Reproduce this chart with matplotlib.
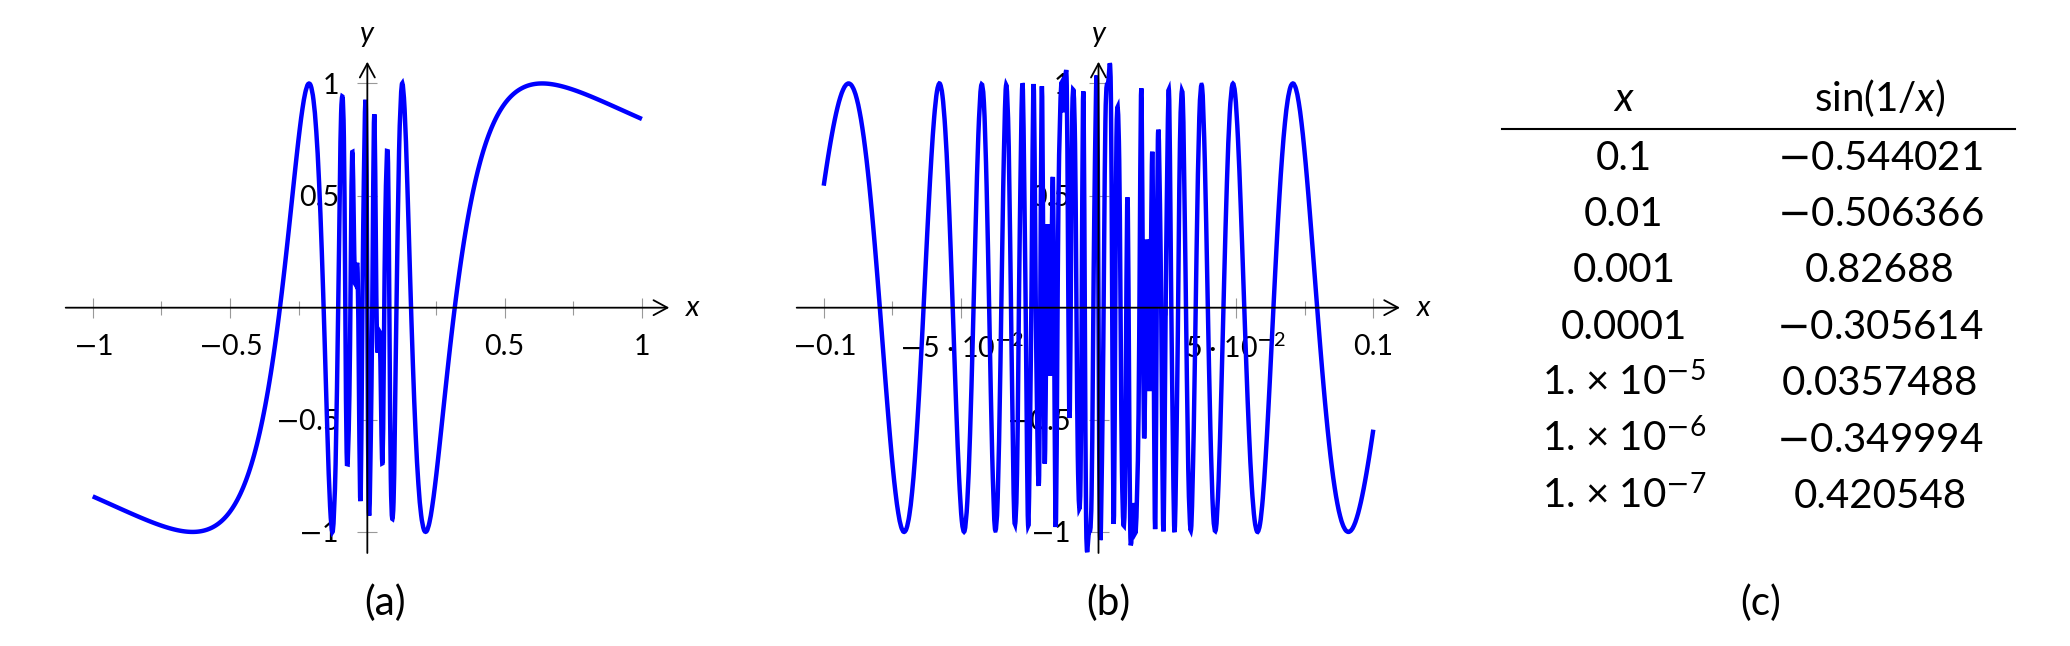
import matplotlib
matplotlib.use("Agg")
import matplotlib.pyplot as plt
import numpy as np
from matplotlib.lines import Line2D
from matplotlib.patches import PathPatch
from matplotlib.path import Path
from matplotlib.ticker import FixedLocator, FixedFormatter

plt.rcParams['font.family'] = ['Lato', 'DejaVu Sans']
plt.rcParams['mathtext.fontset'] = 'custom'
plt.rcParams['mathtext.rm'] = 'Lato'
plt.rcParams['mathtext.it'] = 'Lato:italic'
plt.rcParams['mathtext.bf'] = 'Lato:bold'
plt.rcParams['mathtext.sf'] = 'DejaVu Sans'

# long minus sign, taken from DejaVu
M = r'$\mathsf{-}$'

# sampled curve y = sin(1/x), drawn smooth through the samples
n_samples = 200
domain_a = (-1.0, 1.0)
domain_b = (-0.1, 0.1)

# ticks
y_ticks = [-1, -0.5, 0.5, 1]
y_tick_labels = [M + '1', M + '0.5', '0.5', '1']
a_x_ticks = [-1, -0.5, 0.5, 1]
a_x_tick_labels = [M + '1', M + '0.5', '0.5', '1']
a_x_minor = [-0.75, -0.25, 0.25, 0.75]
b_x_ticks = [-0.1, -0.05, 0.05, 0.1]
b_x_tick_labels = [M + '0.1', M + '5 · 10$^{\\mathsf{-}2}$', '5 · 10$^{\\mathsf{-}2}$', '0.1']
b_x_minor = [-0.075, -0.025, 0.025, 0.075]

# table (c)
table_x = [0.1, 0.01, 0.001, 0.0001, 1e-5, 1e-6, 1e-7]
table_y = [-0.544021, -0.506366, 0.82688, -0.305614, 0.0357488, -0.349994, 0.420548]

W, H = 2070, 646
fig = plt.figure(figsize=(W / 100, H / 100), dpi=100)


def px(x, y):
    return x / W, 1 - y / H


def smooth_path(xs, ys, k=0.153):
    # bezier through the points, like a tikz "smooth" plot
    p = np.column_stack([xs, ys])
    t = np.zeros_like(p)
    t[1:-1] = p[2:] - p[:-2]
    t[0] = p[1] - p[0]
    t[-1] = p[-1] - p[-2]
    verts = [p[0]]
    codes = [Path.MOVETO]
    for i in range(len(p) - 1):
        verts += [p[i] + k * t[i], p[i + 1] - k * t[i + 1], p[i + 1]]
        codes += [Path.CURVE4] * 3
    return Path(verts, codes)


def panel(rect, domain, xlim, ylim, xt, xtl, xminor):
    ax = fig.add_axes(rect)
    xs = np.linspace(domain[0], domain[1], n_samples)
    ax.add_patch(PathPatch(smooth_path(xs, np.sin(1 / xs)), fill=False, edgecolor='#0000ff',
                           lw=3.2, joinstyle='miter', zorder=2))
    ax.set_xlim(xlim)
    ax.set_ylim(ylim)
    for s in ['top', 'right', 'left', 'bottom']:
        ax.spines[s].set_visible(False)
    ax.spines['left'].set_position(('data', 0))
    ax.spines['bottom'].set_position(('data', 0))
    ax.xaxis.set_major_locator(FixedLocator(xt))
    ax.xaxis.set_major_formatter(FixedFormatter(xtl))
    ax.xaxis.set_minor_locator(FixedLocator(xminor))
    ax.yaxis.set_major_locator(FixedLocator(y_ticks))
    ax.yaxis.set_major_formatter(FixedFormatter(y_tick_labels))
    ax.yaxis.set_minor_locator(FixedLocator([]))
    ax.tick_params(which='both', direction='inout', color='0.6', width=0.8, labelsize=20.5)
    ax.tick_params(which='major', length=14)
    ax.tick_params(which='minor', length=10)
    ax.tick_params(axis='x', pad=12)
    ax.tick_params(axis='y', pad=13.5)
    arrow = dict(arrowstyle='->,head_length=0.5,head_width=0.27', lw=1.3, color='black',
                 shrinkA=0, shrinkB=0, mutation_scale=20)
    ax.annotate('', xy=(xlim[1], 0), xytext=(xlim[0], 0), arrowprops=arrow,
                annotation_clip=False, zorder=3)
    ax.annotate('', xy=(0, ylim[1]), xytext=(0, ylim[0]), arrowprops=arrow,
                annotation_clip=False, zorder=3)
    ax.annotate('x', xy=(xlim[1], 0), xytext=(17, 0), textcoords='offset points',
                ha='center', va='center', fontsize=21, style='italic', annotation_clip=False)
    ax.annotate('y', xy=(0, ylim[1]), xytext=(0, 20), textcoords='offset points',
                ha='center', va='center', fontsize=21, style='italic', annotation_clip=False)
    return ax


ylim = (-1.094, 1.097)
x0, _ = px(65.7, 0)
x1, _ = px(669.3, 0)
_, y0 = px(0, 553)
_, y1 = px(0, 61.7)
panel([x0, y0, x1 - x0, y1 - y0], domain_a, (-1.0985, 1.0997), ylim,
      a_x_ticks, a_x_tick_labels, a_x_minor)
x0, _ = px(796.7, 0)
x1, _ = px(1400, 0)
panel([x0, y0, x1 - x0, y1 - y0], domain_b, (-0.10983, 0.10972), ylim,
      b_x_ticks, b_x_tick_labels, b_x_minor)

# table
col1, col2 = 1624, 1880
fig.text(*px(col1, 111), r'$x$', ha='center', va='baseline', fontsize=29)
fig.text(*px(col2, 111), r'sin$($1/$x)$', ha='center', va='baseline', fontsize=29)
fig.add_artist(Line2D([1502 / W, 2015 / W], [1 - 129 / H] * 2, transform=fig.transFigure,
                      color='black', lw=1.5))
for i, (xv, yv) in enumerate(zip(table_x, table_y)):
    base = 169.6 + 56.4 * i
    if xv >= 1e-4:
        xs = '%g' % xv
    else:
        xs = '1. × 10$^{\\mathsf{-}%d}$' % int(round(-np.log10(xv)))
    ys = ('%g' % yv).replace('-', M)
    fig.text(*px(col1, base), xs, ha='center', va='baseline', fontsize=29)
    fig.text(*px(col2, base), ys, ha='center', va='baseline', fontsize=29)

fig.text(*px(385, 603), '(a)', ha='center', va='center', fontsize=29)
fig.text(*px(1108, 603), '(b)', ha='center', va='center', fontsize=29)
fig.text(*px(1761, 603), '(c)', ha='center', va='center', fontsize=29)

fig.savefig('out.png', dpi=100)
